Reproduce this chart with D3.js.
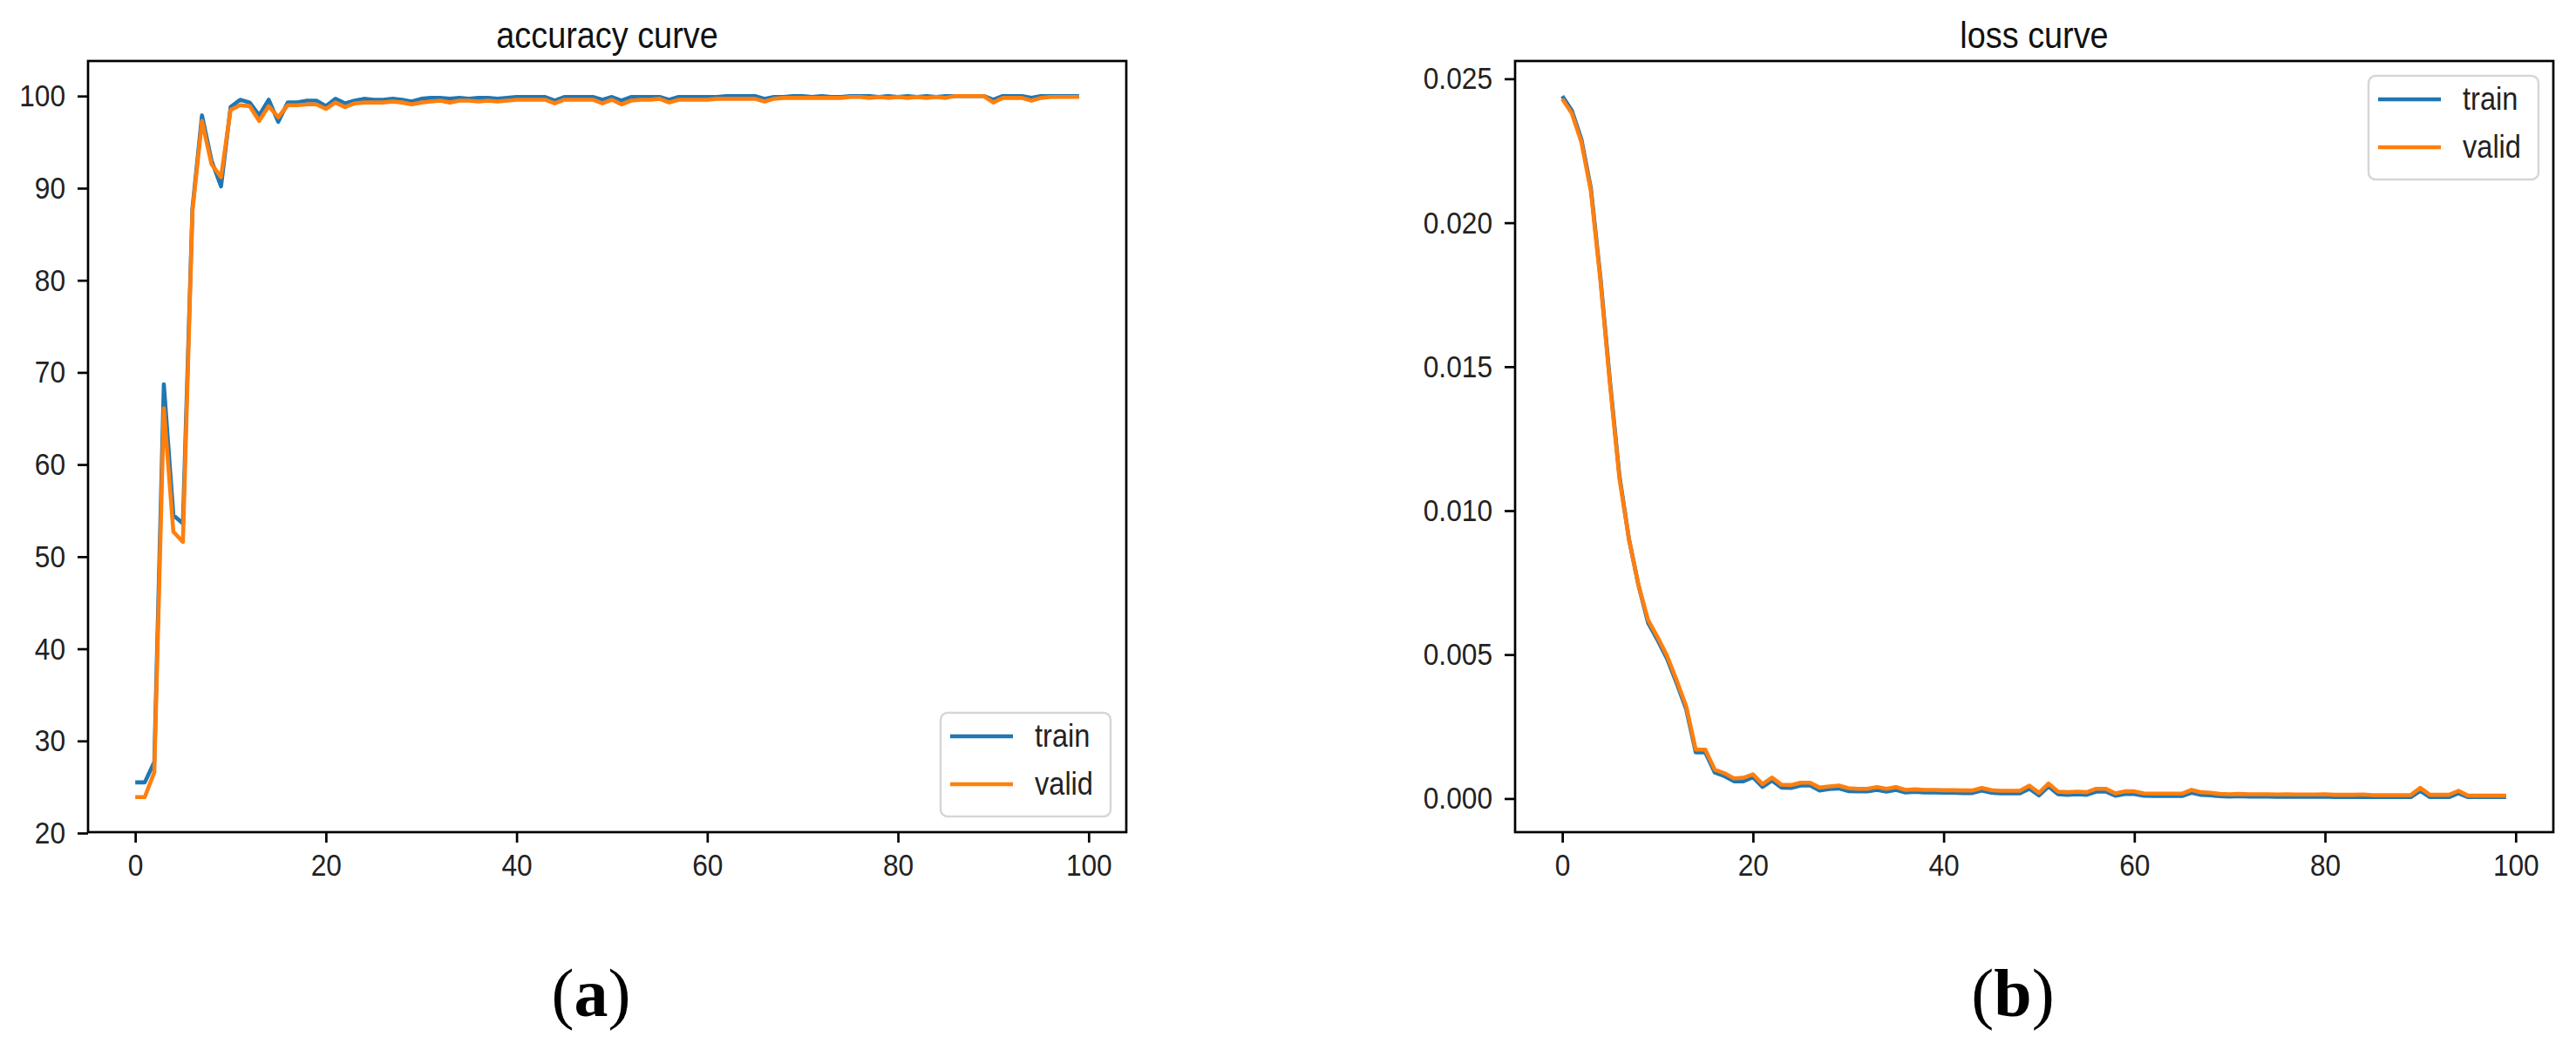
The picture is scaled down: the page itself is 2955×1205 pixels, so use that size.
<!DOCTYPE html>
<html>
<head>
<meta charset="utf-8">
<script src="https://cdn.jsdelivr.net/npm/d3@7"></script>
<style>
  html, body { margin: 0; padding: 0; background: #fff; }
  svg { display: block; }
</style>
</head>
<body>
<svg id="chart" width="2955" height="1205"></svg>
<script>
// ---------------- DATA ----------------
const epochs = d3.range(0, 100);

const accTrain = [25.5,25.5,27.7,68.7,54.5,53.6,87.8,97.9,93.0,90.2,
  98.8,99.6,99.3,97.9,99.6,97.2,99.3,99.3,99.5,99.5,
  98.9,99.7,99.2,99.5,99.7,99.6,99.6,99.7,99.6,99.4,
  99.7,99.8,99.8,99.7,99.8,99.7,99.8,99.8,99.7,99.8,
  99.9,99.9,99.9,99.9,99.5,99.9,99.9,99.9,99.9,99.6,
  99.9,99.5,99.9,99.9,99.9,99.9,99.6,99.9,99.9,99.9,
  99.9,99.9,100,100,100,100,99.7,99.9,99.9,100,
  100,99.9,100,99.9,99.9,100,100,100,99.9,100,
  99.9,100,99.9,100,99.9,100,100,100,100,100,
  99.6,100,100,100,99.8,100,100,100,100,100];

const accValid = [23.9,23.9,26.6,66.1,52.7,51.6,87.5,97.3,92.6,91.2,
  98.5,99.0,98.9,97.3,98.9,97.7,99.0,99.0,99.1,99.1,
  98.6,99.3,98.8,99.2,99.3,99.3,99.3,99.4,99.3,99.1,
  99.3,99.4,99.5,99.3,99.5,99.5,99.4,99.5,99.4,99.5,
  99.6,99.6,99.6,99.6,99.2,99.6,99.6,99.6,99.6,99.2,
  99.6,99.1,99.5,99.6,99.6,99.7,99.3,99.6,99.6,99.6,
  99.6,99.7,99.7,99.7,99.7,99.7,99.4,99.7,99.8,99.8,
  99.8,99.8,99.8,99.8,99.8,99.9,99.9,99.8,99.9,99.8,
  99.9,99.8,99.9,99.8,99.9,99.8,100,100,100,100,
  99.3,99.8,99.8,99.8,99.5,99.8,99.9,99.9,99.9,99.9];

// loss values in units of 1e-3
const lossTrainMilli = [24.4,23.9,22.9,21.2,18.1,14.5,11.2,9.0,7.4,6.1,
  5.5,4.85,4.0,3.1,1.6,1.6,0.9,0.78,0.6,0.6,
  0.74,0.4,0.62,0.38,0.37,0.45,0.45,0.28,0.33,0.35,
  0.26,0.25,0.25,0.3,0.24,0.3,0.21,0.23,0.21,0.21,
  0.2,0.2,0.19,0.19,0.28,0.2,0.18,0.18,0.18,0.34,
  0.11,0.42,0.15,0.13,0.15,0.13,0.24,0.24,0.1,0.16,
  0.16,0.1,0.09,0.09,0.09,0.09,0.2,0.13,0.11,0.08,
  0.07,0.08,0.07,0.07,0.07,0.06,0.07,0.06,0.06,0.06,
  0.07,0.05,0.05,0.05,0.06,0.05,0.05,0.05,0.05,0.05,
  0.27,0.05,0.05,0.05,0.18,0.05,0.05,0.05,0.05,0.05];

const lossValidMilli = [24.3,23.8,22.8,21.1,18.0,14.4,11.1,9.0,7.4,6.2,
  5.6,4.95,4.1,3.2,1.7,1.7,1.0,0.88,0.7,0.72,
  0.84,0.5,0.73,0.48,0.47,0.55,0.55,0.38,0.42,0.45,
  0.36,0.34,0.34,0.4,0.34,0.4,0.3,0.32,0.3,0.3,
  0.29,0.29,0.28,0.28,0.37,0.29,0.27,0.27,0.27,0.45,
  0.2,0.52,0.24,0.22,0.24,0.22,0.34,0.34,0.18,0.25,
  0.25,0.18,0.17,0.17,0.17,0.17,0.3,0.22,0.2,0.16,
  0.15,0.16,0.15,0.15,0.15,0.14,0.15,0.14,0.14,0.14,
  0.15,0.13,0.13,0.13,0.14,0.12,0.12,0.12,0.12,0.12,
  0.37,0.13,0.13,0.13,0.27,0.1,0.1,0.1,0.1,0.1];

const lossTrain = lossTrainMilli.map(v => v / 1000);
const lossValid = lossValidMilli.map(v => v / 1000);

const xTicks = [0, 20, 40, 60, 80, 100];
const accTicks = [20, 30, 40, 50, 60, 70, 80, 90, 100];
const lossTicks = [0, 0.005, 0.010, 0.015, 0.020, 0.025];
const seriesNames = ["train", "valid"];
const seriesColors = ["#1f77b4", "#ff7f0e"];
const titles = ["accuracy curve", "loss curve"];
const captions = ["a", "b"];

// ---------------- DRAW ----------------
const svg = d3.select("#chart");
const FONT = "'Liberation Sans', Arial, sans-serif";
const SX = 0.88;   // horizontal squeeze of the reference's narrow font

function withMargin(vals) {
  const [lo, hi] = d3.extent(vals);
  const m = (hi - lo) * 0.05;
  return [lo - m, hi + m];
}

function panel(opts) {
  const { left, right, top, bottom, series, yTicks, yFmt, title, legendPos } = opts;
  const g = svg.append("g");
  const x = d3.scaleLinear().domain(withMargin(epochs)).range([left, right]);
  const y = d3.scaleLinear().domain(withMargin(series.flat())).range([bottom, top]);

  // lines
  const line = d3.line().x((d, i) => x(epochs[i])).y(d => y(d));
  series.forEach((s, k) => {
    g.append("path").datum(s)
      .attr("d", line)
      .attr("fill", "none")
      .attr("stroke", seriesColors[k])
      .attr("stroke-width", 4.6)
      .attr("stroke-linejoin", "round")
      .attr("stroke-linecap", "butt");
  });

  // x axis
  const xa = g.append("g").attr("transform", `translate(0,${bottom})`)
    .call(d3.axisBottom(x).tickValues(xTicks).tickSize(12).tickSizeOuter(0).tickPadding(12));
  xa.select(".domain").remove();
  xa.selectAll(".tick line").attr("stroke", "#000").attr("stroke-width", 2.7);
  xa.selectAll(".tick text")
    .attr("font-family", FONT).attr("font-size", 36).attr("fill", "#222")
    .attr("transform", `scale(${SX},1)`);

  // y axis
  const ya = g.append("g").attr("transform", `translate(${left},0)`)
    .call(d3.axisLeft(y).tickValues(yTicks).tickFormat(yFmt).tickSize(12).tickSizeOuter(0).tickPadding(14));
  ya.select(".domain").remove();
  ya.selectAll(".tick line").attr("stroke", "#000").attr("stroke-width", 2.7);
  ya.selectAll(".tick text")
    .attr("font-family", FONT).attr("font-size", 36).attr("fill", "#222")
    .attr("x", -26 / SX)
    .attr("transform", `scale(${SX},1)`);

  // spines
  g.append("rect")
    .attr("x", left).attr("y", top)
    .attr("width", right - left).attr("height", bottom - top)
    .attr("fill", "none").attr("stroke", "#000").attr("stroke-width", 2.7);

  // title
  const cx = (left + right) / 2;
  g.append("text")
    .attr("transform", `translate(${cx},${top - 15}) scale(${SX},1)`)
    .attr("text-anchor", "middle")
    .attr("font-family", FONT).attr("font-size", 43).attr("fill", "#111")
    .text(title);

  // legend
  const lw = 195, lh = 119;
  const lx = legendPos === "lower right" ? right - 18 - lw : right - 17 - lw;
  const ly = legendPos === "lower right" ? bottom - 18 - lh : top + 17;
  const lg = g.append("g").attr("transform", `translate(${lx},${ly})`);
  lg.append("rect").attr("width", lw).attr("height", lh).attr("rx", 8)
    .attr("fill", "#fff").attr("fill-opacity", 0.85)
    .attr("stroke", "#d6d6d6").attr("stroke-width", 2.5);
  seriesNames.forEach((name, k) => {
    const yy = 27 + k * 55;
    lg.append("line").attr("x1", 11).attr("x2", 83).attr("y1", yy).attr("y2", yy)
      .attr("stroke", seriesColors[k]).attr("stroke-width", 4.6);
    lg.append("text")
      .attr("transform", `translate(108,${yy + 12}) scale(${SX},1)`)
      .attr("font-family", FONT).attr("font-size", 37).attr("fill", "#222")
      .text(name);
  });
}

panel({ left: 101, right: 1292, top: 70, bottom: 955,
  series: [accTrain, accValid], yTicks: accTicks, yFmt: d3.format("d"),
  title: titles[0], legendPos: "lower right" });

panel({ left: 1738, right: 2929, top: 70, bottom: 955,
  series: [lossTrain, lossValid], yTicks: lossTicks, yFmt: d3.format(".3f"),
  title: titles[1], legendPos: "upper right" });

// captions (a) and (b)
const capX = [678, 2309];
captions.forEach((c, i) => {
  const t = svg.append("text")
    .attr("x", capX[i]).attr("y", 1166)
    .attr("text-anchor", "middle")
    .attr("font-family", "'Liberation Serif', 'Times New Roman', serif")
    .attr("font-size", 78).attr("fill", "#000");
  t.append("tspan").text("(");
  t.append("tspan").attr("font-weight", "bold").text(c);
  t.append("tspan").text(")");
});
</script>
</body>
</html>
